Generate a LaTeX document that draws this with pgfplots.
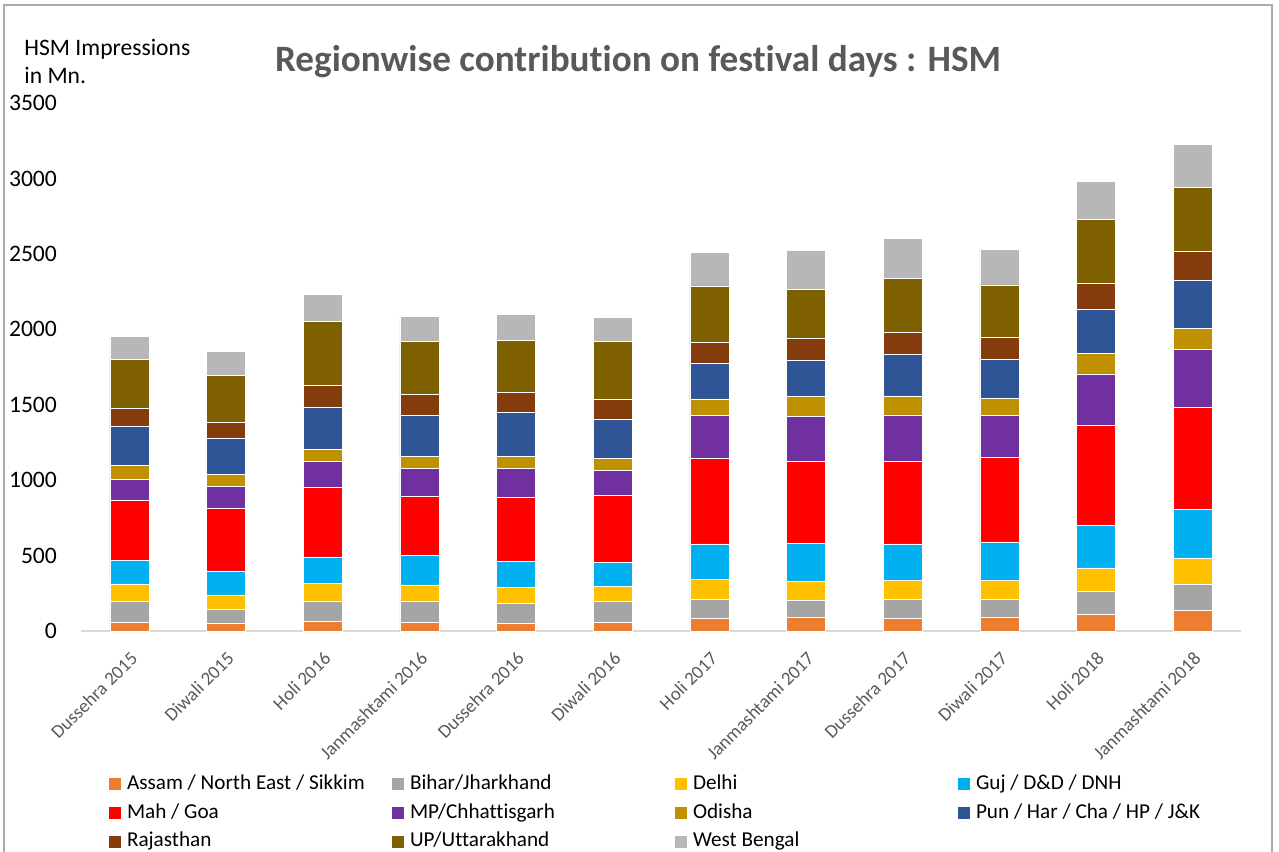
\documentclass[border=0pt]{standalone}
\usepackage{pgfplots}
\pgfplotsset{compat=1.18}
\usepackage{pgfplotstable}
\usepackage{fontspec}
\setmainfont{Carlito}[Ligatures=NoCommon]

% region colours
\definecolor{cAssam}{HTML}{ED7D31}
\definecolor{cBihar}{HTML}{A5A5A5}
\definecolor{cDelhi}{HTML}{FFC000}
\definecolor{cGuj}{HTML}{00B0F0}
\definecolor{cMah}{HTML}{FF0000}
\definecolor{cMP}{HTML}{7030A0}
\definecolor{cOdisha}{HTML}{BF9000}
\definecolor{cPun}{HTML}{2F5597}
\definecolor{cRaj}{HTML}{843C0C}
\definecolor{cUP}{HTML}{7F6000}
\definecolor{cWB}{HTML}{B7B7B7}
\definecolor{titlegray}{HTML}{595959}
\definecolor{axisgray}{HTML}{D9D9D9}
\definecolor{framegray}{HTML}{ABABAB}

% HSM impressions (Mn.) per region and festival day
\pgfplotstableread{
idx A   B   D   G   M   MP  O   P   R   U   W
0   57  140 115 156 398 141 93  257 119 325 150
1   51  93  95  159 415 144 79  241 106 310 161
2   66  133 117 175 464 168 81  281 144 424 179
3   57  142 106 197 391 187 76  274 139 349 166
4   49  134 106 175 424 188 84  287 133 345 172
5   55  140 99  159 446 166 77  261 130 385 161
6   82  130 130 235 565 285 111 236 140 373 223
7   88  115 126 250 544 300 130 239 146 327 259
8   82  128 126 241 546 309 126 276 146 356 265
9   90  120 128 252 559 278 115 259 146 347 238
10  108 155 155 280 665 341 134 294 173 422 252
11  135 174 175 323 676 386 139 317 192 422 287
}\festdata

\newcommand{\legtext}[1]{\makebox[135.5pt][l]{\hspace{3pt}#1}}

\begin{document}
\begin{tikzpicture}
\useasboundingbox (0,0) rectangle (639.5pt,425.5pt);
\draw[framegray, line width=1pt] (2pt,-10pt) rectangle (636pt,423pt);

\begin{axis}[
  at={(40.5pt,110pt)}, anchor=south west,
  scale only axis, width=580pt, height=264pt,
  xmin=-0.5, xmax=11.5, ymin=0, ymax=3500,
  ybar stacked, bar width=19.5pt,
  axis x line*=bottom, axis y line*=left,
  x axis line style={-, draw=axisgray, line width=1pt},
  y axis line style={draw=none},
  major tick length=0pt, tick style={draw=none},
  xtick={0,...,11},
  xticklabels={Dussehra 2015, Diwali 2015, Holi 2016, Janmashtami 2016,
    Dussehra 2016, Diwali 2016, Holi 2017, Janmashtami 2017,
    Dussehra 2017, Diwali 2017, Holi 2018, Janmashtami 2018},
  ytick={0,500,...,3500},
  /pgf/number format/assume math mode=true,
  /pgf/number format/1000 sep={},
  scaled y ticks=false,
  yticklabel style={font=\fontsize{11.8}{14}\selectfont, text=black,
    inner sep=0pt, anchor=east, xshift=-11.85pt},
  xticklabel style={font=\fontsize{9.4}{11}\selectfont, text=titlegray,
    inner sep=0pt, xshift=0pt, yshift=-9.5pt, rotate=45, anchor=north east},
  every axis plot/.append style={draw=white, line width=0.3pt},
  legend columns=4,
  legend image code/.code={\fill[#1, draw=none] (0pt,-3pt) rectangle (6pt,3pt);},
  legend style={at={(0.02414,-0.2733)}, anchor=north west,
    draw=none, fill=none, inner sep=0pt, outer sep=0pt,
    row sep=5.35pt,
    font=\fontsize{10.6}{12}\selectfont,
    cells={anchor=west},
    nodes={inner sep=0pt, text height=7pt, text depth=2pt}},
]
\addplot[fill=cAssam]  table[x=idx, y=A]  {\festdata};
\addlegendentry{\legtext{Assam / North East / Sikkim}}
\addplot[fill=cBihar]  table[x=idx, y=B]  {\festdata};
\addlegendentry{\legtext{Bihar/Jharkhand}}
\addplot[fill=cDelhi]  table[x=idx, y=D]  {\festdata};
\addlegendentry{\legtext{Delhi}}
\addplot[fill=cGuj]    table[x=idx, y=G]  {\festdata};
\addlegendentry{\legtext{Guj / D\&D / DNH}}
\addplot[fill=cMah]    table[x=idx, y=M]  {\festdata};
\addlegendentry{\legtext{Mah / Goa}}
\addplot[fill=cMP]     table[x=idx, y=MP] {\festdata};
\addlegendentry{\legtext{MP/Chhattisgarh}}
\addplot[fill=cOdisha] table[x=idx, y=O]  {\festdata};
\addlegendentry{\legtext{Odisha}}
\addplot[fill=cPun]    table[x=idx, y=P]  {\festdata};
\addlegendentry{\legtext{Pun / Har / Cha / HP / J\&K}}
\addplot[fill=cRaj]    table[x=idx, y=R]  {\festdata};
\addlegendentry{\legtext{Rajasthan}}
\addplot[fill=cUP]     table[x=idx, y=U]  {\festdata};
\addlegendentry{\legtext{UP/Uttarakhand}}
\addplot[fill=cWB]     table[x=idx, y=W]  {\festdata};
\addlegendentry{\legtext{West Bengal}}
\end{axis}

% chart title and value-axis caption
\node[anchor=base, inner sep=0pt, text=titlegray,
  font=\fontsize{18.6}{22}\selectfont\bfseries] at (319pt,389.65pt)
  {Regionwise contribution on festival days : HSM};
\node[anchor=base west, inner sep=0pt, font=\fontsize{11.8}{14}\selectfont]
  at (12pt,397.5pt) {HSM Impressions};
\node[anchor=base west, inner sep=0pt, font=\fontsize{11.8}{14}\selectfont]
  at (12pt,383.85pt) {in Mn.};
\end{tikzpicture}
\end{document}
